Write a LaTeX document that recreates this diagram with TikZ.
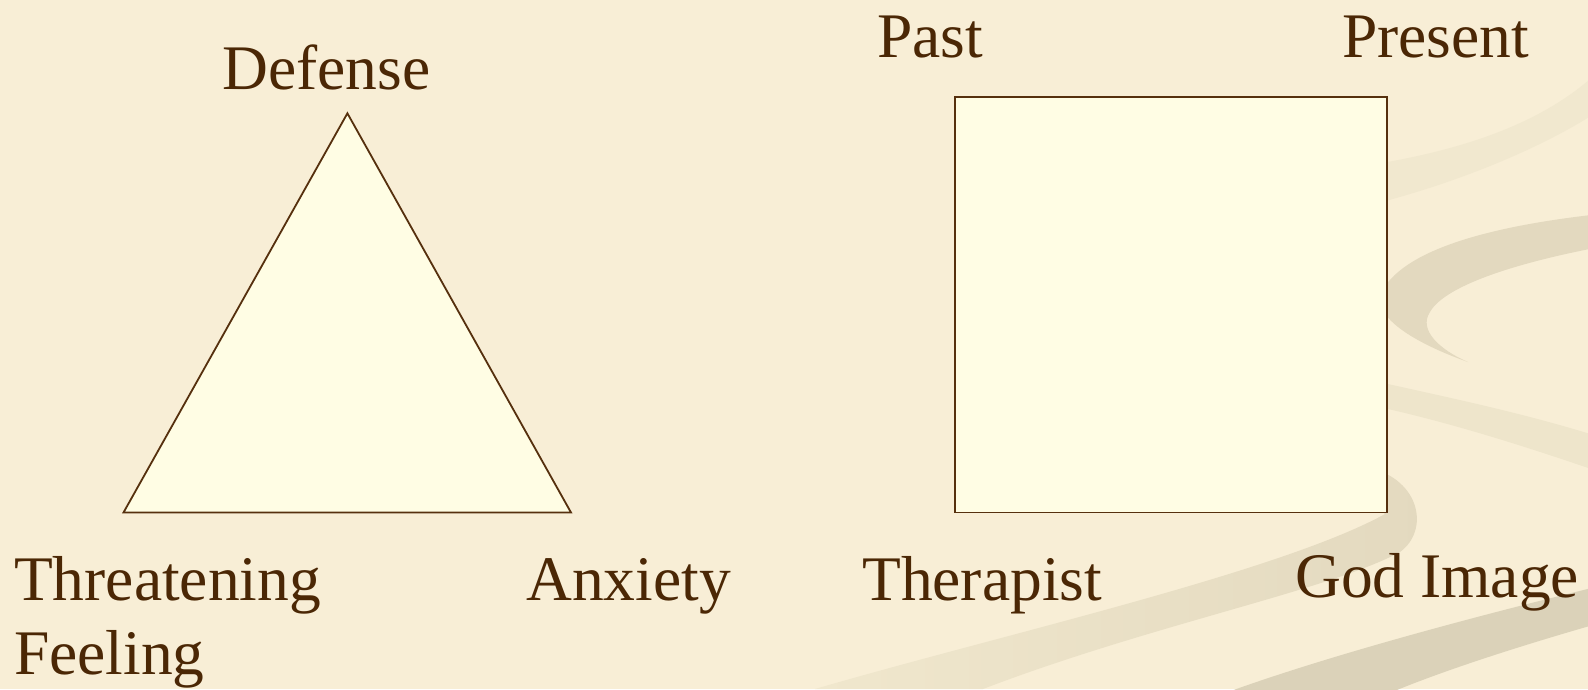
\documentclass[tikz,border=0pt]{standalone}
\usepackage{fontspec}
\setmainfont{Liberation Serif}
\definecolor{bg}{HTML}{F8EED6}
\definecolor{bandA}{HTML}{F1E8CF}
\definecolor{bandB}{HTML}{E3D9BF}
\definecolor{bandC}{HTML}{EEE5CB}
\definecolor{bandD}{HTML}{E3D9BF}
\definecolor{bandDlight}{HTML}{F0E7CD}
\definecolor{bandE}{HTML}{DBD2B9}
\definecolor{shp}{HTML}{FFFDE4}
\definecolor{edge}{HTML}{56300E}
\definecolor{txt}{HTML}{4B2705}
\begin{document}
\begin{tikzpicture}[x=1pt,y=-1pt,
  lbl/.style={anchor=base west, inner sep=0pt, text=txt, font=\fontsize{63.5}{74}\selectfont},
  figure/.style={fill=shp, draw=edge, line width=1.8pt, line join=miter}]
\fill[bg] (0,0) rectangle (1588,689);
\useasboundingbox (0,0) rectangle (1588,689);
% background swooshes
\fill[bandA] (1370,165) .. controls (1450,152) and (1540,128) .. (1600,70) -- (1600,110) .. controls (1540,150) and (1450,185) .. (1370,205) -- cycle;
\fill[bandB] (1600,214) .. controls (1490,226) and (1400,250) .. (1380,295) .. controls (1375,320) and (1420,345) .. (1468,362) .. controls (1440,350) and (1418,330) .. (1430,312) .. controls (1445,285) and (1520,262) .. (1600,247) -- cycle;
\fill[bandC] (1370,380) .. controls (1450,398) and (1520,412) .. (1600,437) -- (1600,472) .. controls (1530,448) and (1450,422) .. (1370,405) -- cycle;
\shade[left color=bandDlight, right color=bandD] (1370,468) .. controls (1420,480) and (1430,530) .. (1400,552) .. controls (1330,590) and (1150,625) .. (983,689) -- (815,689) .. controls (1000,635) and (1280,572) .. (1385,514) -- (1370,500) -- cycle;
\fill[bandE] (1600,586) .. controls (1480,615) and (1330,655) .. (1228,692) -- (1392,692) .. controls (1450,668) and (1530,643) .. (1600,623) -- cycle;
% triangle
\coordinate (tA) at (347.4,113.3);
\coordinate (tB) at (123.5,512.5);
\coordinate (tC) at (571,512.5);
\draw[figure] (tA) -- (tB) -- (tC) -- cycle;
% square
\coordinate (sq1) at (955,97);
\coordinate (sq2) at (1387,512.5);
\draw[figure] (sq1) rectangle (sq2);
% labels
\node[lbl] (defense) at (222,89) {Defense};
\node[lbl] (threat) at (14,600.5) {Threatening};
\node[lbl] (feeling) at (14,674.5) {Feeling};
\node[lbl] (anxiety) at (526,600.5) {Anxiety};
\node[lbl] (past) at (877,57.5) {Past};
\node[lbl] (present) at (1342,57.5) {Present};
\node[lbl] (therapist) at (862,600.5) {Therapist};
\node[lbl] (godimage) at (1295,597.5) {God Image};
\end{tikzpicture}
\end{document}
